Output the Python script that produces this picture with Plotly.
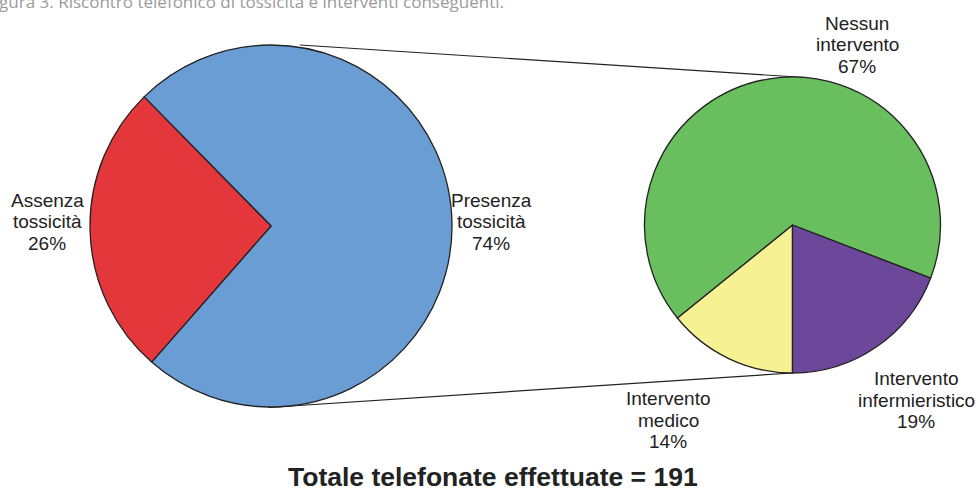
import plotly.graph_objects as go

W, H = 979, 488

# ---- data ----
main_labels = ["Presenza tossicità", "Assenza tossicità"]
main_values = [141, 50]
main_colors = ["#6A9DD4", "#E4373C"]

sub_labels = ["Intervento medico", "Nessun intervento", "Intervento infermieristico"]
sub_values = [20, 94, 27]
sub_colors = ["#F6F294", "#69BF5E", "#6D479A"]

caption = "Figura 3. Riscontro telefonico di tossicità e interventi conseguenti."
total_text = "Totale telefonate effettuate = 191"

# ---- layout helpers (pixels -> paper) ----
def px(x):
    return x / W

def py(y):
    return 1 - y / H

LC = (271, 226, 181)   # left pie centre x, y, radius (px)
RC = (792.5, 225, 148)  # right pie centre

fig = go.Figure()
fig.add_trace(go.Pie(
    labels=main_labels, values=main_values, sort=False, direction="clockwise",
    rotation=-44.5, textinfo="none", hoverinfo="label+percent",
    marker=dict(colors=main_colors, line=dict(color="#222222", width=1.3)),
    domain=dict(x=[px(LC[0] - LC[2]), px(LC[0] + LC[2])],
                y=[py(LC[1] + LC[2]), py(LC[1] - LC[2])]),
    showlegend=False,
))
fig.add_trace(go.Pie(
    labels=sub_labels, values=sub_values, sort=False, direction="clockwise",
    rotation=180, textinfo="none", hoverinfo="label+percent",
    marker=dict(colors=sub_colors, line=dict(color="#222222", width=1.3)),
    domain=dict(x=[px(RC[0] - RC[2]), px(RC[0] + RC[2])],
                y=[py(RC[1] + RC[2]), py(RC[1] - RC[2])]),
    showlegend=False,
))

# connector lines between pies
fig.add_shape(type="line", xref="paper", yref="paper", layer="below",
              x0=px(300), y0=py(45), x1=px(805), y1=py(77.5),
              line=dict(color="#222222", width=1.2))
fig.add_shape(type="line", xref="paper", yref="paper", layer="below",
              x0=px(268), y0=py(407.5), x1=px(792), y1=py(373),
              line=dict(color="#222222", width=1.2))

# label placement (px): centre x, first-line centre y
label_pos = {
    "Presenza tossicità": (491, 200),
    "Assenza tossicità": (47, 200),
    "Intervento medico": (668, 398.5),
    "Nessun intervento": (857, 23.5),
    "Intervento infermieristico": (916, 378.5),
}
LINE = 21.5
FONT = dict(family="Liberation Sans, Arial, sans-serif", size=19, color="#222222")

def add_labels(labels, values):
    tot = sum(values)
    for lab, v in zip(labels, values):
        words = lab.split(" ")
        lines = words + [f"{round(100 * v / tot)}%"]
        cx, cy = label_pos[lab]
        for i, t in enumerate(lines):
            fig.add_annotation(x=px(cx), y=py(cy + i * LINE), xref="paper", yref="paper",
                               text=t, showarrow=False, xanchor="center", yanchor="middle",
                               font=FONT)

add_labels(main_labels, main_values)
add_labels(sub_labels, sub_values)

fig.add_annotation(x=px(492.5), y=py(476.5), xref="paper", yref="paper", text=f"<b>{total_text}</b>",
                   showarrow=False, xanchor="center", yanchor="middle", borderpad=0,
                   font=dict(family="Liberation Sans, Arial, sans-serif", size=26.5, color="#222222"))

fig.add_annotation(x=px(-16), y=py(2), xref="paper", yref="paper", text=caption,
                   showarrow=False, xanchor="left", yanchor="middle",
                   font=dict(family="Open Sans, sans-serif", size=17, color="#9b9b9b"))

fig.update_layout(width=W, height=H, margin=dict(l=0, r=0, t=0, b=0),
                  paper_bgcolor="white", plot_bgcolor="white")
fig.write_html("out.html", config={"displayModeBar": False},
               post_script="document.body.style.margin='0';document.body.style.overflow='hidden';")
